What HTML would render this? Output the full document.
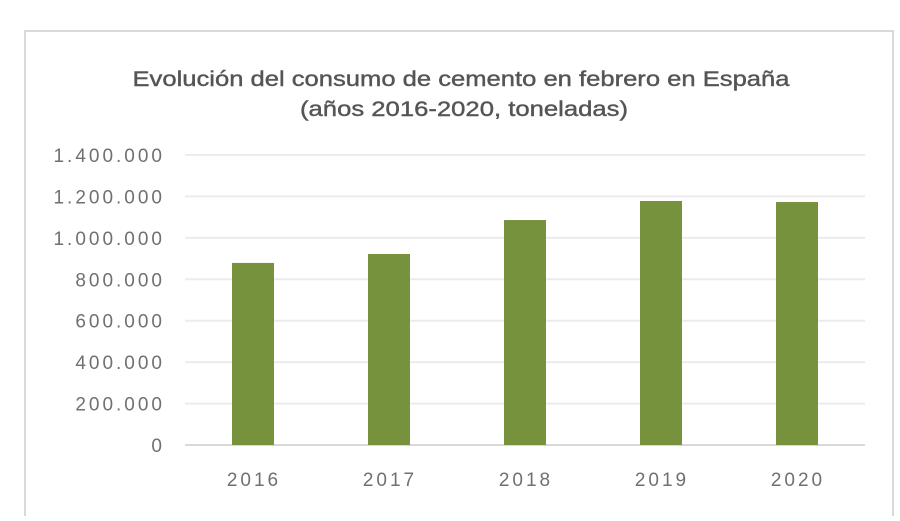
<!DOCTYPE html>
<html><head><meta charset="utf-8"><style>
body{margin:0;width:900px;height:516px;background:#fff;overflow:hidden;font-family:"Liberation Sans",sans-serif}
</style></head><body>
<svg width="900" height="516">
<rect x="25" y="31" width="868" height="500" fill="#fff" stroke="#d9d9d9" stroke-width="2"/>
<text x="461" y="86" text-anchor="middle" font-size="21" fill="#555" stroke="#555" stroke-width="0.4" textLength="657" lengthAdjust="spacingAndGlyphs">Evolución del consumo de cemento en febrero en España</text>
<text x="464" y="116" text-anchor="middle" font-size="21" fill="#555" stroke="#555" stroke-width="0.4" textLength="328" lengthAdjust="spacingAndGlyphs">(años 2016-2020, toneladas)</text>
<g id="grid"></g><g id="bars"></g><g id="labels"></g>
</svg>
<script>
const categories=["2016","2017","2018","2019","2020"];
const values=[879000,922000,1086000,1178000,1173000];
const ticks=[0,200000,400000,600000,800000,1000000,1200000,1400000];
const tickLabels=["0","200.000","400.000","600.000","800.000","1.000.000","1.200.000","1.400.000"];
const NS="http://www.w3.org/2000/svg";
const x0=185,x1=865,yBase=445,yTop=155,maxV=1400000;
const y=v=>yBase-(v/maxV)*(yBase-yTop);
const band=(x1-x0)/categories.length;
const xc=i=>x0+band*(i+0.5);
const grid=document.getElementById('grid'),bars=document.getElementById('bars'),labels=document.getElementById('labels');
ticks.forEach((t,i)=>{
 const l=document.createElementNS(NS,'line');
 l.setAttribute('x1',x0);l.setAttribute('x2',x1);l.setAttribute('y1',y(t));l.setAttribute('y2',y(t));
 l.setAttribute('stroke',i===0?'#d9d9d9':'#ececec');l.setAttribute('stroke-width','2');
 
 
 grid.appendChild(l);
 const tx=document.createElementNS(NS,'text');
 tx.setAttribute('x',165);tx.setAttribute('y',y(t)+7);tx.setAttribute('text-anchor','end');
 tx.setAttribute('font-size','19');tx.setAttribute('letter-spacing','3');tx.setAttribute('fill','#707070');tx.textContent=tickLabels[i];
 
 
 labels.appendChild(tx);
});
categories.forEach((c,i)=>{
 const r=document.createElementNS(NS,'rect');
 r.setAttribute('x',xc(i)-21);r.setAttribute('width',42);
 r.setAttribute('y',y(values[i]));r.setAttribute('height',yBase-y(values[i]));
 r.setAttribute('fill','#76923c');
 
 
 bars.appendChild(r);
 const tx=document.createElementNS(NS,'text');
 tx.setAttribute('x',xc(i)+1);tx.setAttribute('y',486);tx.setAttribute('text-anchor','middle');
 tx.setAttribute('font-size','19');tx.setAttribute('letter-spacing','3');tx.setAttribute('fill','#707070');tx.textContent=c;
 
 
 labels.appendChild(tx);
});
</script>
</body></html>
